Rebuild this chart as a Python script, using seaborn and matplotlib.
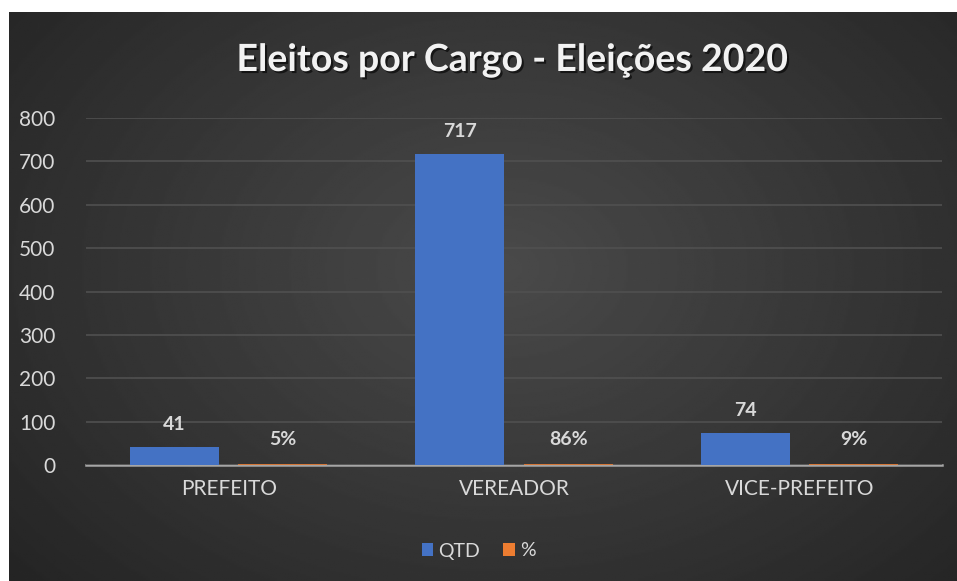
import numpy as np
import pandas as pd
import matplotlib
matplotlib.use("Agg")
import matplotlib.pyplot as plt
import matplotlib.patheffects as pe
import seaborn as sns

# Dados do gráfico
cargos = ["PREFEITO", "VEREADOR", "VICE-PREFEITO"]
qtd = [41, 717, 74]
pct = [0.05, 0.86, 0.09]
series = ["QTD", "%"]

df = pd.DataFrame({
    "Cargo": cargos * 2,
    "Serie": [series[0]] * 3 + [series[1]] * 3,
    "Valor": qtd + pct,
})

BLUE = "#4472C4"
ORANGE = "#ED7D31"
TXT = "#d9d9d9"

sns.set_theme(style="dark")
plt.rcParams["font.family"] = ["Lato", "DejaVu Sans"]

fig = plt.figure(figsize=(9.57, 5.81), dpi=100, facecolor="white")

# Fundo com gradiente radial (estilo Excel)
bg = fig.add_axes([9 / 957, 0, 948 / 957, 569 / 581], zorder=-5)
yy, xx = np.mgrid[0:1:300j, 0:1:500j]
r = np.sqrt(((xx - 0.52) / 0.75) ** 2 + ((yy - 0.45) / 0.9) ** 2)
shade = np.clip(0.29 - 0.16 * r, 0.12, 0.3)
bg.imshow(shade, cmap="gray", vmin=0, vmax=1, aspect="auto",
          extent=[0, 1, 0, 1], origin="upper")
bg.set_axis_off()

ax = fig.add_axes([86 / 957, 1 - 465 / 581, (942 - 86) / 957, (465 - 118) / 581])
ax.set_facecolor("none")

sns.barplot(data=df, x="Cargo", y="Valor", hue="Serie", hue_order=series,
            palette=[BLUE, ORANGE], width=0.76, gap=0.18, ax=ax,
            saturation=1, linewidth=0, legend=True)

# barras de % quase nulas: contorno fino para ficarem visíveis
for bar in ax.containers[1]:
    bar.set_edgecolor(ORANGE)
    bar.set_linewidth(1.2)

ax.set_ylim(0, 800)
ax.set_yticks(range(0, 801, 100))
ax.set_xlabel("")
ax.set_ylabel("")
ax.grid(axis="y", color="#505050", linewidth=1.2)
ax.grid(axis="x", visible=False)
ax.set_axisbelow(True)
for s in ["top", "right", "left"]:
    ax.spines[s].set_visible(False)
ax.spines["bottom"].set_color("#a6a6a6")
ax.spines["bottom"].set_linewidth(1.8)
ax.spines["bottom"].set_zorder(0.5)
ax.tick_params(axis="y", colors=TXT, labelsize=15, length=0, pad=22)
ax.tick_params(axis="x", colors=TXT, labelsize=15, length=0, pad=10)

ax.bar_label(ax.containers[0], labels=[str(v) for v in qtd], padding=10,
             color=TXT, fontsize=14, fontweight="bold")
ax.bar_label(ax.containers[1], labels=[f"{v:.0%}" for v in pct], padding=12,
             color=TXT, fontsize=14, fontweight="bold")

leg = ax.legend(loc="center", bbox_to_anchor=(0.5, 1 - 551 / 581),
                bbox_transform=fig.transFigure, ncol=2, frameon=False,
                fontsize=14, handlelength=0.6, handleheight=0.6,
                handletextpad=0.25, columnspacing=1.2)
for t in leg.get_texts():
    t.set_color(TXT)
for h in leg.legend_handles:
    h.set_linewidth(0)

fig.text(0.535, 1 - 60 / 581, "Eleitos por Cargo - Eleições 2020",
         ha="center", va="center", color="#f2f2f2", fontsize=27,
         fontweight="bold",
         path_effects=[pe.withSimplePatchShadow(offset=(1.5, -1.5),
                                                shadow_rgbFace="black",
                                                alpha=0.6)])

fig.savefig("out.png", dpi=100, facecolor="white")
